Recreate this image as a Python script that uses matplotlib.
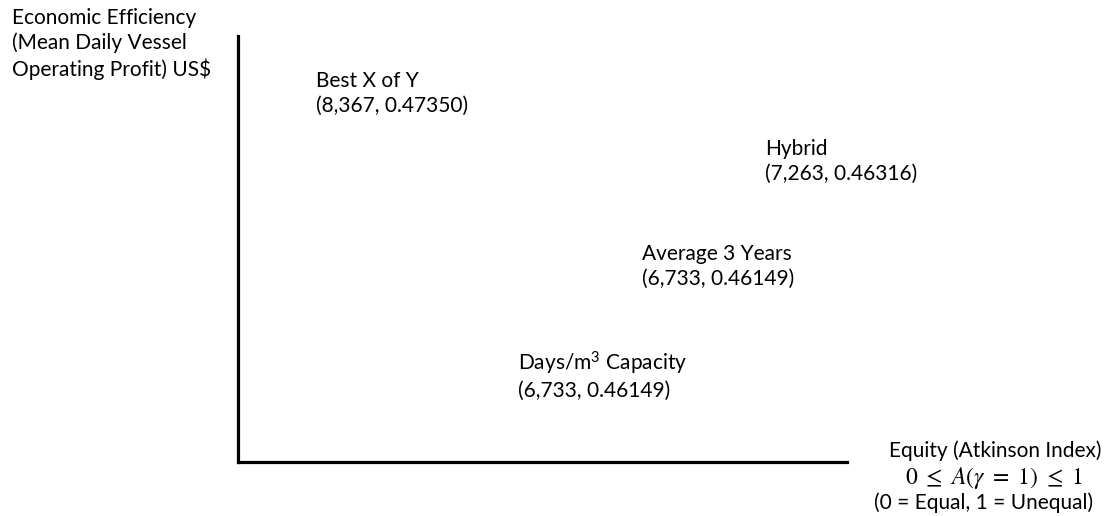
import matplotlib.pyplot as plt

plt.rcParams['font.family'] = ['Lato', 'DejaVu Sans']
plt.rcParams['mathtext.fontset'] = 'stix'

# strategies and their (profit US$, Atkinson index) values
strategies = ["Best X of Y", "Hybrid", "Average 3 Years",
              r"Days/m$^{\mathregular{3}}$ Capacity"]
profits = [8367, 7263, 6733, 6733]
atkinson = [0.47350, 0.46316, 0.46149, 0.46149]

# schematic label placement (axes fraction, left edge / vertical centre)
label_x = [0.128, 0.865, 0.663, 0.460]
label_y = [0.866, 0.706, 0.460, 0.204]

y_title = "Economic Efficiency\n(Mean Daily Vessel\nOperating Profit) US$"
x_title = ["Equity (Atkinson Index)", r"$0\ \leq\ A(\gamma\ =\ 1)\ \leq\ 1$",
           "(0 = Equal, 1 = Unequal)"]

W, H = 1117, 516
fig = plt.figure(figsize=(W / 100, H / 100), dpi=100)
ax = fig.add_axes([238 / W, (H - 462) / H, 609 / W, 426 / H])
for side in ['top', 'right']:
    ax.spines[side].set_visible(False)
for side in ['left', 'bottom']:
    ax.spines[side].set_linewidth(2.3)
    ax.spines[side].set_capstyle('projecting')
ax.set_xticks([])
ax.set_yticks([])

fs = 15
for name, p, a, lx, ly in zip(strategies, profits, atkinson, label_x, label_y):
    ax.text(lx, ly, f"{name}\n({p:,}, {a:.5f})", transform=ax.transAxes,
            ha='left', va='center', fontsize=fs, linespacing=1.3)

fig.text(12 / W, 1 - 44 / H, y_title, ha='left', va='center',
         fontsize=fs, linespacing=1.28)

x_cent = [995, 994, 984]
y_cent = [451, 478, 503]
sizes = [fs, 17, fs]
for t, cx, cy, s in zip(x_title, x_cent, y_cent, sizes):
    fig.text(cx / W, 1 - cy / H, t, ha='center', va='center', fontsize=s)

fig.savefig("out.png", dpi=100)
